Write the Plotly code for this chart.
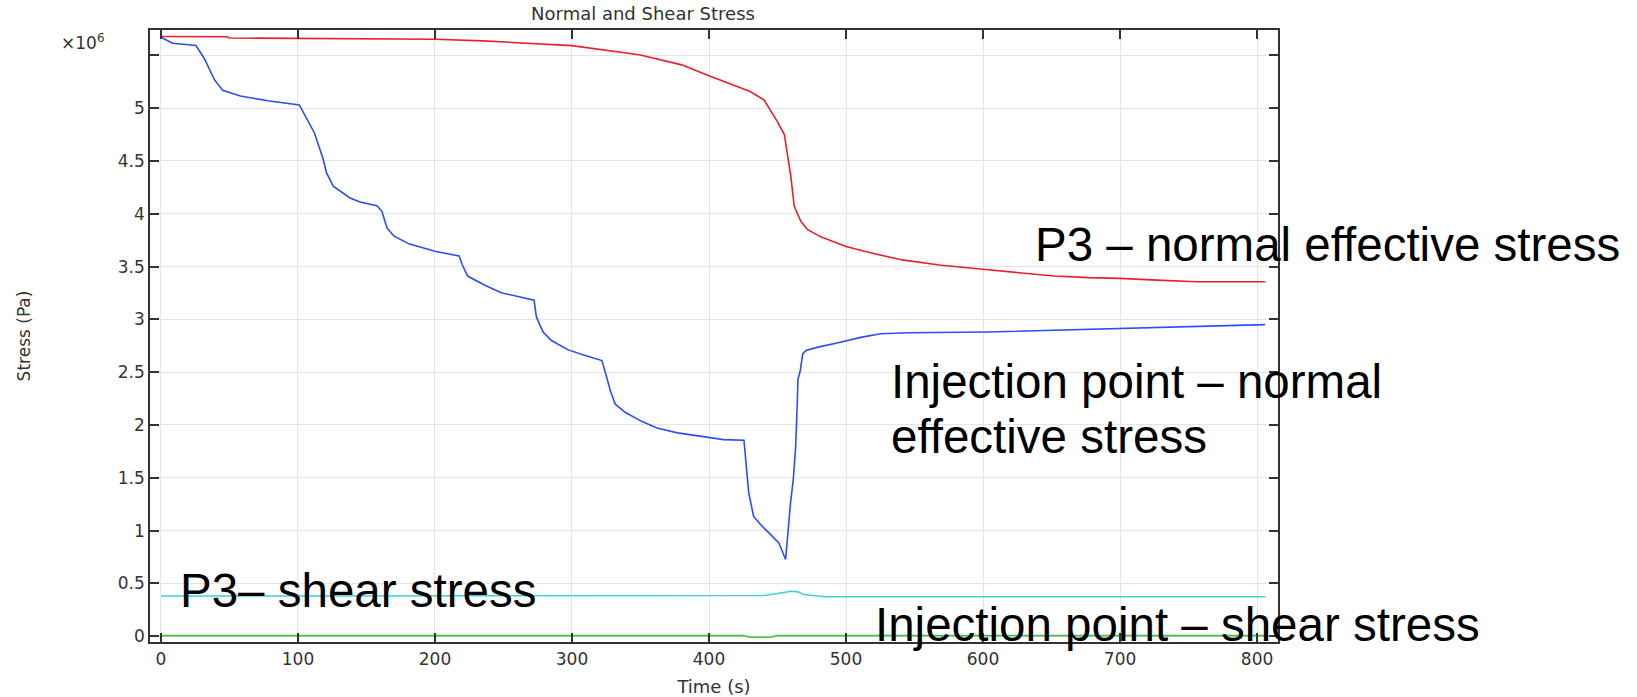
import plotly.graph_objects as go

# ---------------- data (time in s, stress in 1e6 Pa) ----------------
p3_normal_t = [0, 48, 50, 100, 150, 200, 235, 257, 300, 350, 380, 400, 420, 430, 440,
               445, 450, 455, 457, 459.7, 462.2, 467, 472, 482, 500, 517, 541, 568, 600,
               628, 652, 677, 700, 727, 756, 806]
p3_normal_v = [5.678, 5.676, 5.664, 5.66, 5.657, 5.653, 5.637, 5.62, 5.592, 5.504, 5.41,
               5.306, 5.204, 5.157, 5.08, 4.98, 4.87, 4.75, 4.6, 4.357, 4.071, 3.928,
               3.849, 3.779, 3.69, 3.633, 3.563, 3.515, 3.474, 3.442, 3.41, 3.395, 3.388,
               3.372, 3.356, 3.356]

inj_normal_t = [0, 8.5, 25.5, 31.6, 39, 45, 58, 78, 101, 112, 116, 118.4, 120.8, 125.7,
                138, 145.3, 157.6, 161.3, 165, 169.9, 180.9, 191.9, 200.5, 217.6, 220,
                223.8, 236, 248.3, 260.5, 272.3, 274, 278.9, 285, 297.3, 309.6, 321.8,
                324.3, 328, 331.6, 339, 351.2, 362, 377, 394, 410.7, 425.5, 426.7, 429,
                432.5, 437.6, 445, 451, 455.9, 457.6, 459.5, 461.5, 463.2, 464.4, 464.9,
                466.6, 468.4, 470.8, 479.5, 494.3, 511.6, 525.2, 546.2, 603, 652.5, 702,
                749, 805.8]
inj_normal_v = [5.672, 5.615, 5.593, 5.47, 5.27, 5.17, 5.115, 5.07, 5.03, 4.765, 4.61,
                4.516, 4.389, 4.262, 4.15, 4.112, 4.077, 4.023, 3.865, 3.79, 3.715, 3.671,
                3.642, 3.601, 3.515, 3.41, 3.325, 3.252, 3.213, 3.182, 3.023, 2.88, 2.80,
                2.711, 2.657, 2.61, 2.499, 2.324, 2.197, 2.118, 2.032, 1.972, 1.925, 1.893,
                1.861, 1.855, 1.688, 1.357, 1.136, 1.057, 0.962, 0.884, 0.726, 1.01, 1.262,
                1.483, 1.783, 2.193, 2.43, 2.515, 2.673, 2.705, 2.737, 2.778, 2.832, 2.864,
                2.873, 2.88, 2.896, 2.912, 2.928, 2.95]

p3_shear_t = [0, 440, 450, 460, 465, 469, 485, 806]
p3_shear_v = [0.38, 0.385, 0.405, 0.426, 0.42, 0.395, 0.373, 0.373]

inj_shear_t = [0, 425, 430, 445, 450, 806]
inj_shear_v = [0.005, 0.005, -0.01, -0.01, 0.005, 0.005]

scale = 1e6
y_ticks = [0, 0.5, 1, 1.5, 2, 2.5, 3, 3.5, 4, 4.5, 5]
y_tick_text = ["0", "0.5", "1", "1.5", "2", "2.5", "3", "3.5", "4", "4.5", "5"]
y_minor_ticks = [5.5]
x_ticks = [0, 100, 200, 300, 400, 500, 600, 700, 800]

# ---------------- geometry (absolute page pixels; body margin removed) ----------------
W, H = 1637, 697
PLOT_L, PLOT_R, PLOT_T, PLOT_B = 150, 1278, 30, 642
L, T, R, B = PLOT_L, PLOT_T, W - PLOT_R, H - PLOT_B
PW, PH = W - L - R, H - T - B

def px(x):
    return (x - PLOT_L) / PW

def py(y):
    return (PLOT_B - y) / PH

fig = go.Figure()
series = [
    (p3_normal_t, p3_normal_v, "#e8202a", "P3 normal"),
    (inj_normal_t, inj_normal_v, "#2b4cff", "Injection normal"),
    (p3_shear_t, p3_shear_v, "#38d4d4", "P3 shear"),
    (inj_shear_t, inj_shear_v, "#45c045", "Injection shear"),
]
for t, v, c, n in series:
    fig.add_trace(go.Scatter(x=t, y=[a * scale for a in v], mode="lines", name=n,
                             line=dict(color=c, width=1.6)))

tick_font = dict(family="DejaVu Sans", size=17, color="#333333")
axis_common = dict(showline=True, linecolor="#333333", linewidth=1.5, mirror="ticks",
                   ticks="inside", ticklen=9, tickwidth=1.5, tickcolor="#333333",
                   showgrid=True, gridcolor="#e4e4e4", gridwidth=1.2, zeroline=False,
                   tickfont=tick_font, automargin=False)

fig.update_layout(
    width=W, height=H,
    margin=dict(l=L, r=R, t=T, b=B),
    paper_bgcolor="white", plot_bgcolor="white",
    showlegend=False,
    title=dict(text="Normal and Shear Stress", x=px(643), xref="paper", xanchor="center",
               y=1 - 14 / H, yref="container", yanchor="middle",
               font=dict(family="DejaVu Sans", size=18, color="#333333")),
    xaxis=dict(range=[-8, 815.3], tickvals=x_ticks, ticklabelstandoff=1,
               title=dict(text="Time (s)", standoff=13,
                          font=dict(family="DejaVu Sans", size=18, color="#333333")),
               **axis_common),
    yaxis=dict(range=[-0.055 * scale, 5.74 * scale], tickvals=[v * scale for v in y_ticks],
               ticktext=y_tick_text,
               minor=dict(tickvals=[v * scale for v in y_minor_ticks], ticks="inside",
                          ticklen=9, tickwidth=1.5, tickcolor="#333333", showgrid=True,
                          gridcolor="#e4e4e4", gridwidth=1.2),
               title=dict(text="Stress (Pa)", standoff=83,
                          font=dict(family="DejaVu Sans", size=17, color="#333333")),
               **axis_common),
)

big = dict(family="Liberation Sans, Arial", size=47.5, color="black")
annots = [
    ("P3 – normal effective stress", 1033, 244.5),
    ("Injection point – normal", 889, 381.5),
    ("effective stress", 889, 436.5),
    ("P3– shear stress", 178, 590),
    ("Injection point – shear stress", 873, 624),
]
for text, x, y in annots:
    fig.add_annotation(text=text, x=px(x), y=py(y), xref="paper", yref="paper",
                       xanchor="left", yanchor="middle", showarrow=False, font=big)

fig.add_annotation(text="×10<sup>6</sup>", x=px(106), y=py(42), xref="paper", yref="paper",
                   xanchor="right", yanchor="middle", showarrow=False,
                   font=dict(family="DejaVu Sans", size=17, color="#333333"))

fig.write_html("out.html",
               config={"displayModeBar": False},
               post_script="document.body.style.margin='0px';"
                           "document.body.style.overflow='hidden';")
